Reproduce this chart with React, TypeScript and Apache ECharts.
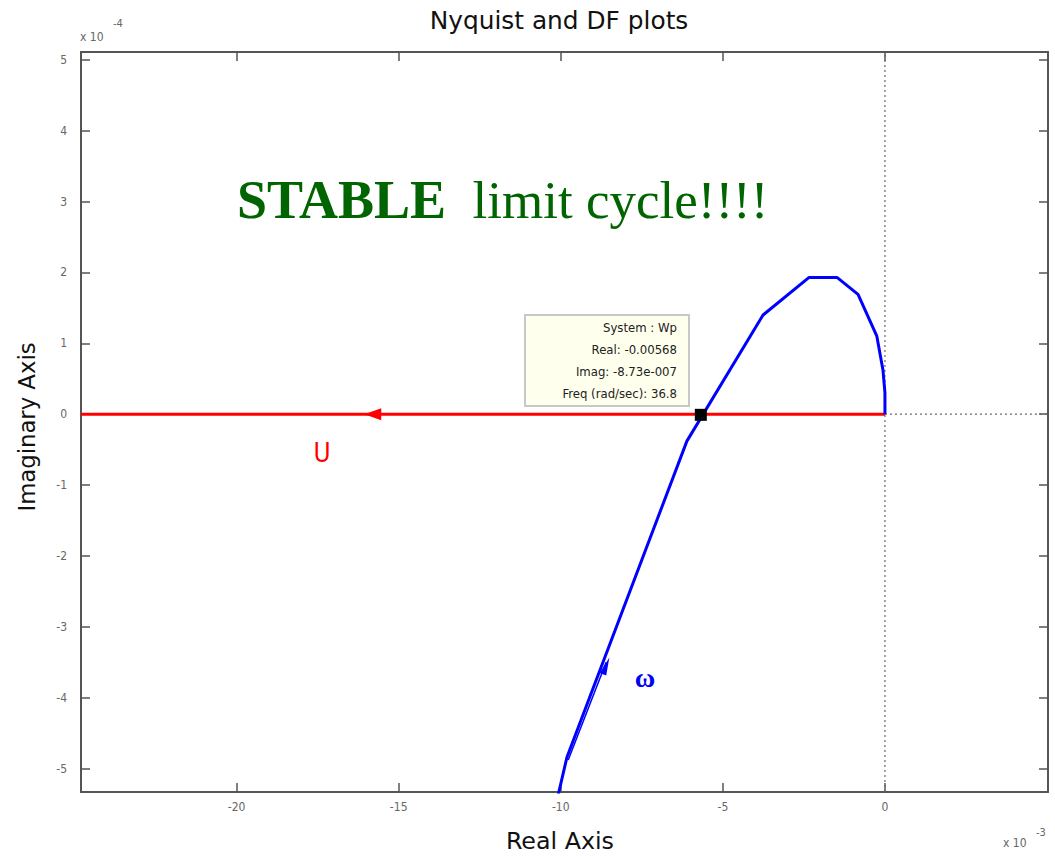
import React, { useEffect, useRef } from "react";
import * as echarts from "echarts";

// Real axis in units of 1e-3, imaginary axis in units of 1e-4
const xMin = -24.8;
const xMax = 5.03;
const yMin = -5.33;
const yMax = 5.11;

const xTicks = [-20, -15, -10, -5, 0];
const yTicks = [5, 4, 3, 2, 1, 0, -1, -2, -3, -4, -5];

// Nyquist plot of Wp (blue)
const nyqReal = [0, 0, -0.06, -0.25, -0.83, -1.48, -2.34, -3.76, -6.11, -9.81, -10.12];
const nyqImag = [0, 0.3, 0.62, 1.1, 1.69, 1.93, 1.93, 1.4, -0.38, -4.84, -5.45];

// -1/N (describing function) locus (red)
const dfReal = [0, -24.8];
const dfImag = [0, 0];

// direction arrows
const dfArrow = [-15.8, 0];
const omegaLineReal = [-9.77, -8.6];
const omegaLineImag = [-4.88, -3.5];
const omegaArrow = [-8.6, -3.55];

// intersection point (data tip)
const crossing = [-5.68, -0.00873];
const tipLines = ["System : Wp", "Real: -0.00568", "Imag: -8.73e-007", "Freq (rad/sec): 36.8"];

const NARROW = "'Liberation Sans Narrow', 'DejaVu Sans Condensed', 'Arial Narrow', 'Liberation Sans', sans-serif";
const SERIF = "'Liberation Serif', 'DejaVu Serif', serif";
const FRAME = "#555555";

function zip(a: number[], b: number[]) {
  return a.map((v, i) => [v, b[i]]);
}

export default function App() {
  const ref = useRef<HTMLDivElement>(null);

  useEffect(() => {
    if (!ref.current) return;
    const chart = echarts.init(ref.current, undefined, { renderer: "svg" });

    const axisCommon = {
      type: "value" as const,
      splitLine: { show: false },
      axisLine: { onZero: false, lineStyle: { color: FRAME, width: 2 } },
    };

    chart.setOption({
      animation: false,
      backgroundColor: "#ffffff",
      grid: { left: 81, right: 7, top: 52, bottom: 64 },
      xAxis: [
        {
          ...axisCommon,
          position: "bottom",
          min: xMin,
          max: xMax,
          axisTick: { inside: true, length: 9, customValues: xTicks, lineStyle: { color: FRAME, width: 1.5 } },
          axisLabel: {
            customValues: xTicks,
            color: "#666",
            fontSize: 12,
            fontFamily: NARROW,
            margin: 9,
          },
        },
        {
          ...axisCommon,
          position: "top",
          min: xMin,
          max: xMax,
          axisTick: { inside: true, length: 9, customValues: xTicks, lineStyle: { color: FRAME, width: 1.5 } },
          axisLabel: { show: false },
        },
      ],
      yAxis: [
        {
          ...axisCommon,
          position: "left",
          min: yMin,
          max: yMax,
          axisTick: { inside: true, length: 9, customValues: yTicks, lineStyle: { color: FRAME, width: 1.5 } },
          axisLabel: {
            customValues: yTicks,
            color: "#666",
            fontSize: 12,
            fontFamily: NARROW,
            margin: 14,
          },
        },
        {
          ...axisCommon,
          position: "right",
          min: yMin,
          max: yMax,
          axisTick: { inside: true, length: 9, customValues: yTicks, lineStyle: { color: FRAME, width: 1.5 } },
          axisLabel: { show: false },
        },
      ],
      series: [
        {
          name: "zero-v",
          type: "line",
          data: [
            [0, yMin],
            [0, yMax],
          ],
          symbol: "none",
          silent: true,
          z: 1,
          lineStyle: { color: "#666", width: 1.2, type: [2, 3] },
        },
        {
          name: "zero-h",
          type: "line",
          data: [
            [0, 0],
            [xMax, 0],
          ],
          symbol: "none",
          silent: true,
          z: 1,
          lineStyle: { color: "#666", width: 1.2, type: [2, 3] },
        },
        {
          name: "DF",
          type: "line",
          data: zip(dfReal, dfImag),
          symbol: "none",
          z: 3,
          lineStyle: { color: "#ff0000", width: 3 },
        },
        {
          name: "Nyquist",
          type: "line",
          data: zip(nyqReal, nyqImag),
          symbol: "none",
          z: 4,
          lineStyle: { color: "#0000ff", width: 3 },
        },
        {
          name: "omega-arrow-line",
          type: "line",
          data: zip(omegaLineReal, omegaLineImag),
          symbol: "none",
          z: 4,
          lineStyle: { color: "#0000ff", width: 1.5 },
        },
        {
          name: "omega-arrow",
          type: "scatter",
          data: [omegaArrow],
          symbol: "triangle",
          symbolSize: [7, 18],
          symbolRotate: -21,
          itemStyle: { color: "#0000ff", opacity: 1 },
          z: 5,
        },
        {
          name: "df-arrow",
          type: "scatter",
          data: [dfArrow],
          symbol: "triangle",
          symbolSize: [12, 17],
          symbolRotate: 90,
          itemStyle: { color: "#ff0000", opacity: 1 },
          z: 5,
        },
        {
          name: "crossing",
          type: "scatter",
          data: [crossing],
          symbol: "rect",
          symbolSize: 12,
          itemStyle: { color: "#000000", opacity: 1 },
          z: 6,
        },
      ],
      graphic: [
        {
          type: "text",
          x: 559,
          y: 21,
          scaleX: 1.15,
          style: {
            text: "Nyquist and DF plots",
            font: `24px ${NARROW}`,
            fill: "#111",
            align: "center",
            verticalAlign: "middle",
          },
        },
        {
          type: "text",
          x: 80,
          y: 37,
          style: { text: "x 10", font: `12px ${NARROW}`, fill: "#666", align: "left", verticalAlign: "middle" },
        },
        {
          type: "text",
          x: 113,
          y: 23,
          style: { text: "-4", font: `11px ${NARROW}`, fill: "#666", align: "left", verticalAlign: "middle" },
        },
        {
          type: "text",
          x: 1003,
          y: 843,
          style: { text: "x 10", font: `12px ${NARROW}`, fill: "#666", align: "left", verticalAlign: "middle" },
        },
        {
          type: "text",
          x: 1036,
          y: 832,
          style: { text: "-3", font: `11px ${NARROW}`, fill: "#666", align: "left", verticalAlign: "middle" },
        },
        {
          type: "text",
          x: 560,
          y: 841,
          scaleX: 1.15,
          style: { text: "Real Axis", font: `23px ${NARROW}`, fill: "#111", align: "center", verticalAlign: "middle" },
        },
        {
          type: "text",
          x: 27,
          y: 427,
          rotation: Math.PI / 2,
          scaleX: 1.1,
          style: { text: "Imaginary Axis", font: `23px ${NARROW}`, fill: "#111", align: "center", verticalAlign: "middle" },
        },
        {
          type: "text",
          x: 237,
          y: 200,
          style: {
            text: "{b|STABLE}  limit cycle!!!!",
            font: `53px ${SERIF}`,
            fill: "#006400",
            align: "left",
            verticalAlign: "middle",
            rich: {
              b: { fontWeight: "bold", fontSize: 54, fontFamily: SERIF, fill: "#006400" },
            },
          },
        },
        {
          type: "text",
          x: 322,
          y: 453,
          style: { text: "U", font: `26px ${NARROW}`, fill: "#ff0000", align: "center", verticalAlign: "middle" },
        },
        {
          type: "text",
          x: 645,
          y: 677,
          style: { text: "ω", font: `bold 28px ${SERIF}`, fill: "#0000ff", align: "center", verticalAlign: "middle" },
        },
        {
          type: "group",
          children: [
            {
              type: "rect",
              shape: { x: 525, y: 315, width: 164, height: 91 },
              style: { fill: "#ffffee", stroke: "#c8c8c8", lineWidth: 2 },
              z: 10,
            },
            ...tipLines.map((t, i) => ({
              type: "text",
              x: 677,
              y: 327 + i * 22,
              z: 11,
              style: { text: t, font: `13px ${NARROW}`, fill: "#222", align: "right", verticalAlign: "middle" },
            })),
          ],
        },
      ],
    });

    return () => chart.dispose();
  }, []);

  return (
    <div
      ref={ref}
      style={{ position: "fixed", left: 0, top: 0, width: 1055, height: 856, background: "#fff" }}
    />
  );
}
